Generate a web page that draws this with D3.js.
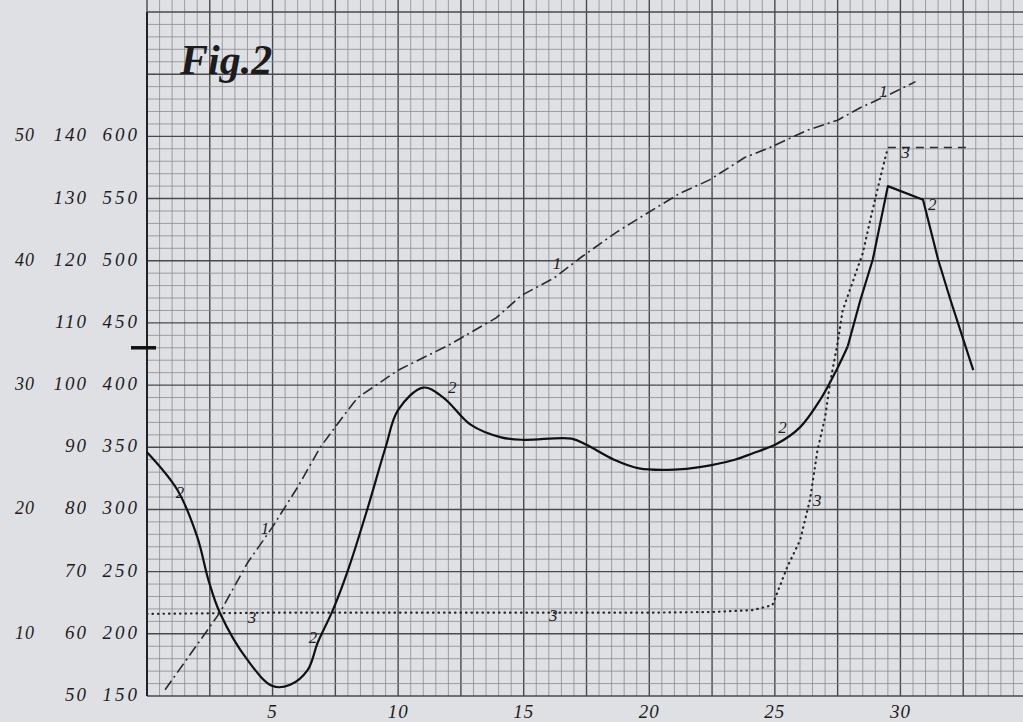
<!DOCTYPE html>
<html>
<head>
<meta charset="utf-8">
<script src="https://cdn.jsdelivr.net/npm/d3@7"></script>
<style>
  body { margin: 0; background: #dfe0e4; }
  svg { display: block; }
  text { font-family: "Liberation Serif", "DejaVu Serif", serif; font-style: italic; fill: #1c1c1c; }
</style>
</head>
<body>
<script>
// curve 1 (dash-dot)
const curve1 = [[0.72,155],[2.9,217],[4.0,257],[5.0,286],[6.0,318],[6.9,350],[8.0,380],[8.4,390],
    [10.0,412],[12.0,432],[13.9,454],[14.9,472],[16.2,486],[17.3,503],[18.7,523],[19.9,538],
    [21.2,554],[22.4,565],[23.8,583],[24.8,591],[26.3,605],[27.5,613],[28.4,623],[29.7,635],[30.6,644]];
// curve 2 (solid)
const curve2 = [[0,346],[1.2,316],[2.0,278],[2.45,243],[2.9,217],[4.0,179],[5.0,158],[5.7,159],
    [6.4,171],[6.8,193],[7.4,219],[8.0,251],[8.8,302],[9.5,350],[10.0,380],[11.0,398],[11.8,390],
    [12.9,368],[14.1,358],[15.0,356],[16.9,357],[17.5,352],[18.6,340],[19.6,333],[21.0,332],
    [22.0,334],[23.4,340],[24.1,345],[25.1,353],[26.0,366],[26.8,388],[27.5,414],[27.9,431],
    [28.4,468],[28.9,501],[29.5,560],[30.9,549],[31.5,501],[32.0,468],[32.9,412]];
// curve 3 (dotted, last step dashed)
const curve3 = [[0,216],[5.0,217],[14.9,217],[19.9,217],[22.5,217.5],[24.1,219],[24.9,223],
    [25.5,254],[26.0,275],[26.4,308],[26.7,348],[27.0,374],[27.2,402],[27.5,434],[27.7,460],
    [28.5,506],[28.8,533],[29.2,567],[29.5,591],[32.8,591]];

const yTicks = [150, 200, 250, 300, 350, 400, 450, 500, 550, 600];
const midLabels = ["50", "60", "70", "80", "90", "100", "110", "120", "130", "140"];
const leftTicks = [200, 300, 400, 500, 600];
const leftLabels = ["10", "20", "30", "40", "50"];
const xTicks = [5, 10, 15, 20, 25, 30];
const markValue = 430;

const curveLabels = [
    [4.7, 285, "1"], [16.33, 498, "1"], [29.32, 636, "1"],
    [1.31, 314, "2"], [6.61, 197, "2"], [12.15, 398, "2"], [25.3, 366, "2"], [31.27, 545, "2"],
    [4.18, 213.5, "3"], [16.18, 215, "3"], [26.69, 307, "3"], [30.2, 587, "3"]
];

let width = 1023, height = 722;

var svg = d3.select("body")
            .append("svg")
            .attr("width", width)
            .attr("height", height);

var x = d3.scaleLinear()
          .domain([0, 35])
          .range([147, 1026]);

var y = d3.scaleLinear()
          .domain([150, 700])
          .range([696, 12]);

// graph paper
let grid = svg.append("g");
grid.selectAll(".v")
    .data(d3.range(0, 35.01, 0.5))
    .enter().append("line")
    .attr("x1", d => x(d))
    .attr("x2", d => x(d))
    .attr("y1", 0)
    .attr("y2", y(150))
    .attr("stroke", d => d % 2.5 === 0 ? "#4a4a4a" : "#8a8b8f")
    .attr("stroke-width", d => d % 2.5 === 0 ? 1.4 : 0.8);

grid.selectAll(".h")
    .data(d3.range(150, 701, 10))
    .enter().append("line")
    .attr("x1", x(0))
    .attr("x2", width)
    .attr("y1", d => y(d))
    .attr("y2", d => y(d))
    .attr("stroke", d => (d - 150) % 50 === 0 ? "#4a4a4a" : "#8a8b8f")
    .attr("stroke-width", d => (d - 150) % 50 === 0 ? 1.4 : 0.8);

// left axis line
svg.append("line")
   .attr("x1", x(0)).attr("x2", x(0))
   .attr("y1", y(700)).attr("y2", y(150))
   .attr("stroke", "#222").attr("stroke-width", 2);

svg.append("line")
   .attr("x1", x(0) - 16).attr("x2", x(0) + 9)
   .attr("y1", y(markValue)).attr("y2", y(markValue))
   .attr("stroke", "#111").attr("stroke-width", 3.5);

// curves
let line = d3.line().x(d => x(d[0])).y(d => y(d[1]));
let smooth = d3.line().x(d => x(d[0])).y(d => y(d[1])).curve(d3.curveCatmullRom.alpha(0.5));

svg.append("path")
   .datum(curve1)
   .attr("d", line)
   .attr("fill", "none")
   .attr("stroke", "#2a2a2a")
   .attr("stroke-width", 1.6)
   .attr("stroke-dasharray", "11,4,2,4");

// curve 2: smooth up to the steep rise, straight strokes around the sharp peak
svg.append("path")
   .datum(curve2.slice(0, 33))
   .attr("d", smooth)
   .attr("fill", "none")
   .attr("stroke", "#111")
   .attr("stroke-width", 2.2);

svg.append("path")
   .datum(curve2.slice(32))
   .attr("d", line)
   .attr("fill", "none")
   .attr("stroke", "#111")
   .attr("stroke-width", 2.2)
   .attr("stroke-linejoin", "round");

svg.append("path")
   .datum(curve3.slice(0, -1))
   .attr("d", line)
   .attr("fill", "none")
   .attr("stroke", "#262626")
   .attr("stroke-width", 2.2)
   .attr("stroke-linecap", "round")
   .attr("stroke-dasharray", "0.5,5");

svg.append("path")
   .datum(curve3.slice(-2))
   .attr("d", line)
   .attr("fill", "none")
   .attr("stroke", "#2a2a2a")
   .attr("stroke-width", 1.5)
   .attr("stroke-dasharray", "8,6");

// curve numbers
svg.selectAll(".clab")
   .data(curveLabels)
   .enter().append("text")
   .attr("x", d => x(d[0]))
   .attr("y", d => y(d[1]))
   .attr("text-anchor", "middle")
   .attr("dominant-baseline", "central")
   .style("font-size", "17px")
   .text(d => d[2]);

// tick labels
svg.selectAll(".ry")
   .data(yTicks)
   .enter().append("text")
   .attr("x", 140)
   .attr("y", d => y(d) + 5)
   .attr("text-anchor", "end")
   .style("font-size", "19px")
   .style("letter-spacing", "3px")
   .text(d => d);

svg.selectAll(".my")
   .data(yTicks)
   .enter().append("text")
   .attr("x", 88)
   .attr("y", d => y(d) + 5)
   .attr("text-anchor", "end")
   .style("font-size", "19px")
   .style("letter-spacing", "2px")
   .text((d, i) => midLabels[i]);

svg.selectAll(".ly")
   .data(leftTicks)
   .enter().append("text")
   .attr("x", 35)
   .attr("y", d => y(d) + 5)
   .attr("text-anchor", "end")
   .style("font-size", "18px")
   .style("letter-spacing", "1px")
   .text((d, i) => leftLabels[i]);

svg.selectAll(".xl")
   .data(xTicks)
   .enter().append("text")
   .attr("x", d => x(d))
   .attr("y", 718)
   .attr("text-anchor", "middle")
   .style("font-size", "19px")
   .style("letter-spacing", "1px")
   .text(d => d);

svg.append("text")
   .attr("x", 180)
   .attr("y", 74)
   .style("font-size", "42px")
   .style("font-weight", "bold")
   .text("Fig.2");
</script>
</body>
</html>
